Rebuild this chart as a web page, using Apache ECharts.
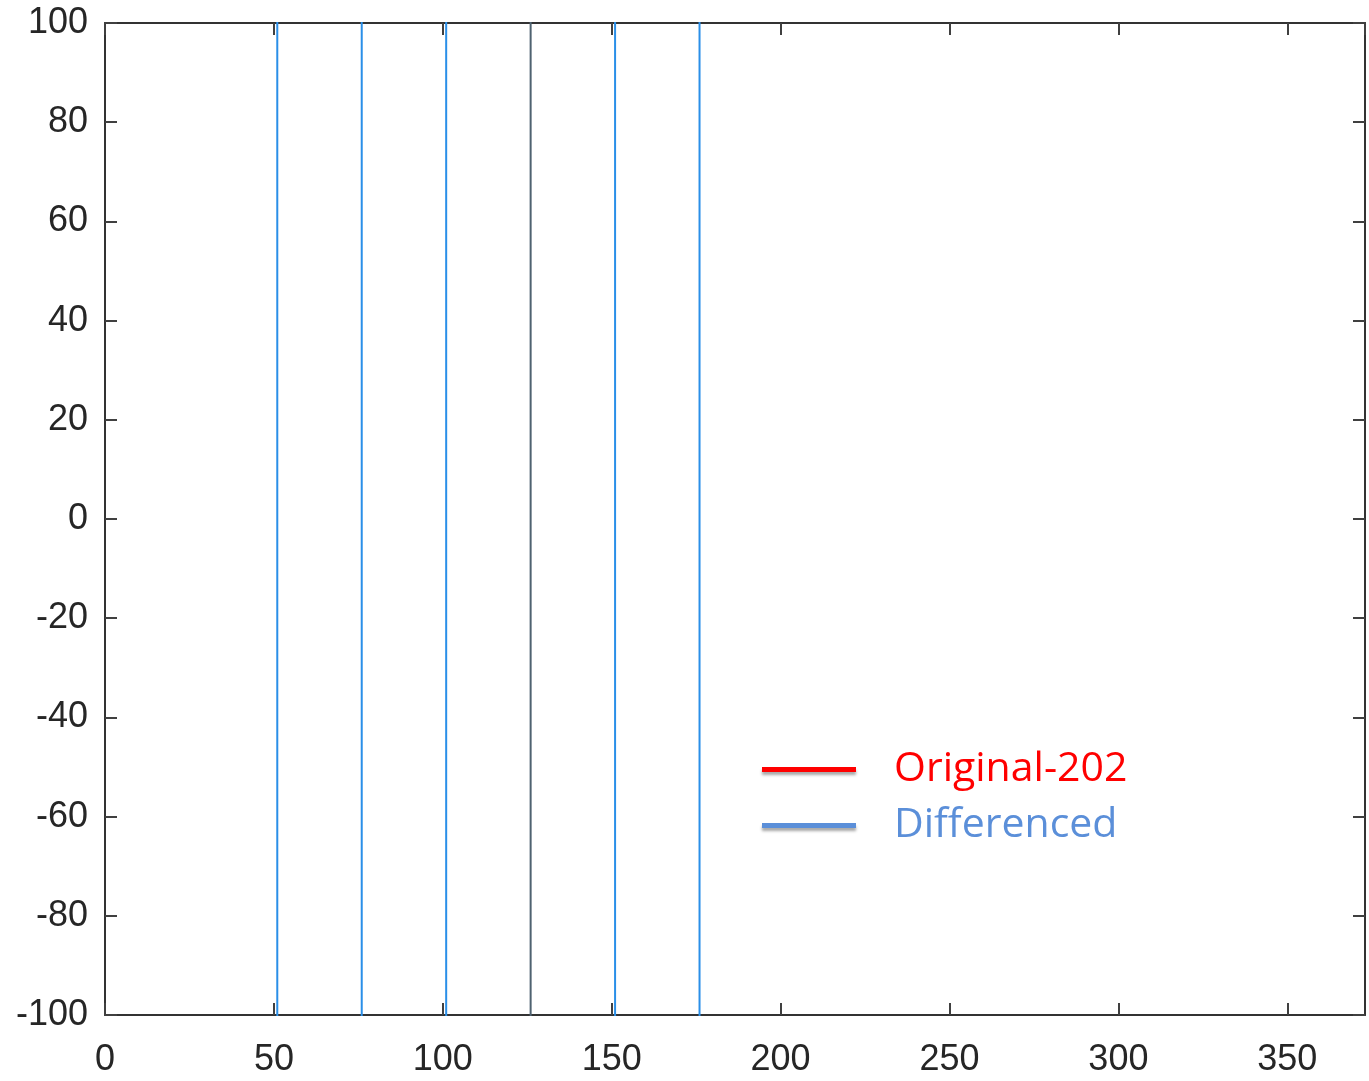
<!DOCTYPE html>
<html>
<head>
<meta charset="utf-8">
<script src="https://cdn.jsdelivr.net/npm/echarts@6/dist/echarts.min.js"></script>
<style>
  html, body { margin: 0; padding: 0; background: #fff; }
  #chart { width: 1369px; height: 1081px; }
</style>
</head>
<body>
<div id="chart"></div>
<script>
// spike positions (values run past the axis limits)
var diffX = [51, 76, 101, 151, 176];
var diffLo = [-130, -130, -130, -130, -130];
var diffHi = [130, 130, 130, 130, 130];
var greyX = [126];
var greyLo = [-130];
var greyHi = [130];
var originalData = [];

var xTicks = [0, 50, 100, 150, 200, 250, 300, 350];
var yTicks = [-100, -80, -60, -40, -20, 0, 20, 40, 60, 80, 100];

function spikes(xs, lo, hi) {
    var out = [];
    for (var i = 0; i < xs.length; i++) {
        out.push([xs[i], lo[i]], [xs[i], hi[i]], '-');
    }
    return out;
}

var chart = echarts.init(document.getElementById('chart'));

var tickStyle = { show: true, inside: true, length: 12, lineStyle: { color: '#404040', width: 2 } };
var lineStyle = { show: true, onZero: false, lineStyle: { color: '#333', width: 2 } };
var labelFont = { color: '#262626', fontSize: 36, fontFamily: 'Liberation Sans' };

function xFmt(v) { return xTicks.indexOf(v) >= 0 ? String(v) : ''; }

var options = {
    backgroundColor: '#fff',
    animation: false,
    grid: { left: 105, top: 23, right: 4, bottom: 66, containLabel: false },
    xAxis: [{
        type: 'value', min: 0, max: 373, interval: 50, position: 'bottom',
        axisLine: lineStyle, axisTick: tickStyle, splitLine: { show: false },
        axisLabel: Object.assign({ margin: 27, formatter: xFmt, showMaxLabel: false }, labelFont)
    }, {
        type: 'value', min: 0, max: 373, interval: 50, position: 'top',
        axisLine: lineStyle, axisTick: tickStyle, splitLine: { show: false },
        axisLabel: { show: false }
    }],
    yAxis: [{
        type: 'value', min: -100, max: 100, interval: 20, position: 'left',
        axisLine: lineStyle, axisTick: tickStyle, splitLine: { show: false },
        axisLabel: Object.assign({ margin: 17, padding: [6, 0, 0, 0] }, labelFont)
    }, {
        type: 'value', min: -100, max: 100, interval: 20, position: 'right',
        axisLine: lineStyle, axisTick: tickStyle, splitLine: { show: false },
        axisLabel: { show: false }
    }],
    legend: {
        orient: 'vertical', left: 757, top: 742,
        itemWidth: 94, itemHeight: 5, itemGap: 11, icon: 'rect',
        textStyle: { fontSize: 41, fontFamily: 'Open Sans', lineHeight: 45, padding: [0, 0, 0, 33] },
        data: [{
            name: 'Original-202',
            itemStyle: { color: '#ff0000', shadowColor: 'rgba(0,0,0,0.35)', shadowBlur: 3, shadowOffsetY: 3 },
            textStyle: { color: '#ff0000' }
        }, {
            name: 'Differenced',
            itemStyle: { color: '#5b8fd9', shadowColor: 'rgba(0,0,0,0.35)', shadowBlur: 3, shadowOffsetY: 3 },
            textStyle: { color: '#5b8fd9' }
        }]
    },
    series: [{
        name: 'Original-202', type: 'line', data: originalData,
        showSymbol: false, color: '#ff0000'
    }, {
        name: 'Differenced', type: 'line', data: spikes(diffX, diffLo, diffHi),
        showSymbol: false, clip: true, color: '#2a8fe8',
        lineStyle: { color: '#2a8fe8', width: 2 }
    }, {
        name: 'overlap', type: 'line', data: spikes(greyX, greyLo, greyHi),
        showSymbol: false, clip: true, color: '#4f6270',
        lineStyle: { color: '#4f6270', width: 2 }
    }]
};

chart.setOption(options, true);
</script>
</body>
</html>
